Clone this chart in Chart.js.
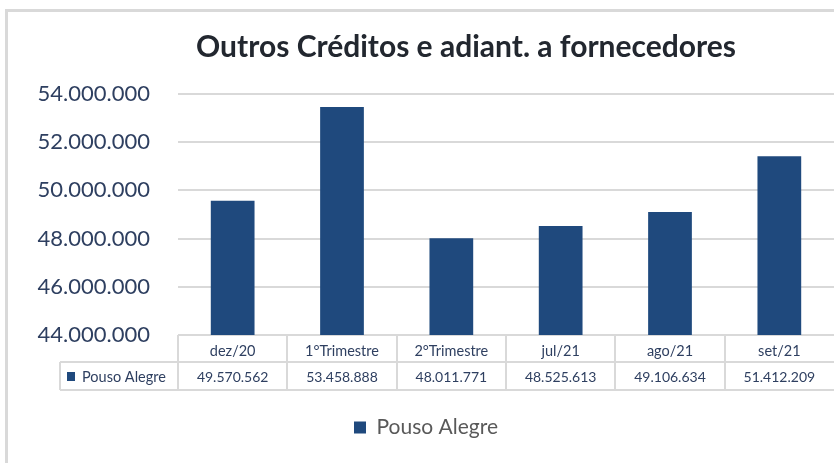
<!DOCTYPE html>
<html>
<head>
<meta charset="utf-8">
<script src="https://cdn.jsdelivr.net/npm/chart.js@4/dist/chart.umd.min.js"></script>
<style>
  html, body { margin: 0; padding: 0; background: #fff; overflow: hidden; }
  #frame { position: absolute; left: 5px; top: 9px; width: 900px; height: 520px;
           border-left: 3px solid #d9d9d9; border-top: 3px solid #d9d9d9; }
  #wrap { position: absolute; left: 0; top: 0; width: 834px; height: 463px; }
</style>
</head>
<body>
<div id="frame"></div>
<div id="wrap"><canvas id="chart" width="834" height="463"></canvas></div>
<script>
var categories = ['dez/20', '1°Trimestre', '2°Trimestre', 'jul/21', 'ago/21', 'set/21'];
var seriesName = 'Pouso Alegre';
var seriesValues = [49570562, 53458888, 48011771, 48525613, 49106634, 51412209];
var yMin = 44000000;
var yMax = 54000000;
var yStep = 2000000;

var barColor = '#1f497d';
var gridColor = '#d9d9d9';
var textColor = '#2e3f60';

// 49570562 -> 49.570.562
function fmt(v) {
  return String(v).replace(/\B(?=(\d{3})+(?!\d))/g, '.');
}

// title sits a bit right of the legend in the original
var shiftTitle = {
  id: 'shiftTitle',
  afterLayout: function (chart) {
    if (chart.titleBlock) {
      chart.titleBlock.left += 40;
      chart.titleBlock.right += 40;
    }
  }
};

// excel style data table under the x axis
var dataTable = {
  id: 'dataTable',
  afterDraw: function (chart) {
    var ctx = chart.ctx;
    var area = chart.chartArea;
    var xs = chart.scales.x;
    var colW = (area.right - area.left) / categories.length;
    var row1 = area.bottom + 27;
    var row2 = area.bottom + 55;
    var keyLeft = 60;

    ctx.save();
    ctx.strokeStyle = gridColor;
    ctx.lineWidth = 2;
    ctx.beginPath();
    ctx.moveTo(keyLeft, row1); ctx.lineTo(area.right, row1);
    ctx.moveTo(keyLeft, row2); ctx.lineTo(area.right, row2);
    ctx.moveTo(keyLeft, row1); ctx.lineTo(keyLeft, row2);
    for (var i = 0; i < categories.length; i++) {
      var px = Math.round(area.left + i * colW);
      ctx.moveTo(px, area.bottom); ctx.lineTo(px, row2);
    }
    ctx.stroke();

    var midY = (row1 + row2) / 2;
    ctx.fillStyle = barColor;
    ctx.fillRect(keyLeft + 7, midY - 4, 8, 9);
    ctx.fillStyle = textColor;
    ctx.font = '14.5px Lato';
    ctx.textAlign = 'left';
    ctx.textBaseline = 'middle';
    ctx.fillText(seriesName, keyLeft + 22, midY + 1);

    ctx.font = '14px Lato';
    ctx.textAlign = 'center';
    seriesValues.forEach(function (v, i) {
      ctx.fillText(fmt(v), xs.getPixelForValue(i), midY + 1);
    });
    ctx.restore();
  }
};

var ctx = document.getElementById('chart').getContext('2d');
var myChart = new Chart(ctx, {
  type: 'bar',
  data: {
    labels: categories,
    datasets: [{
      label: seriesName,
      data: seriesValues,
      backgroundColor: barColor,
      borderWidth: 0,
      barPercentage: 0.4,
      categoryPercentage: 1
    }]
  },
  options: {
    responsive: false,
    animation: false,
    layout: {
      padding: { left: 18, right: 0, top: 0, bottom: 15 }
    },
    scales: {
      x: {
        grid: { display: false },
        border: { display: false },
        ticks: {
          color: textColor,
          padding: 0,
          maxRotation: 0,
          autoSkip: false,
          font: { family: 'Lato', size: 14.5 }
        },
        afterFit: function (s) { s.height = 70; }
      },
      y: {
        min: yMin,
        max: yMax,
        grid: { color: gridColor, lineWidth: 2, drawTicks: false },
        border: { display: false },
        ticks: {
          stepSize: yStep,
          color: textColor,
          padding: 28,
          font: { family: 'Lato', size: 22 },
          callback: function (v) { return fmt(v); }
        },
        afterFit: function (s) { s.width = 160; }
      }
    },
    plugins: {
      title: {
        display: true,
        text: 'Outros Créditos e adiant. a fornecedores',
        color: '#22272f',
        font: { family: 'Lato', size: 30, weight: 'bold' },
        padding: { top: 29, bottom: 29 }
      },
      legend: {
        display: true,
        position: 'bottom',
        labels: {
          color: '#595959',
          boxWidth: 12,
          boxHeight: 12,
          padding: 12,
          font: { family: 'Lato', size: 21 }
        }
      },
      tooltip: { enabled: false }
    }
  },
  plugins: [shiftTitle, dataTable]
});
</script>
</body>
</html>
